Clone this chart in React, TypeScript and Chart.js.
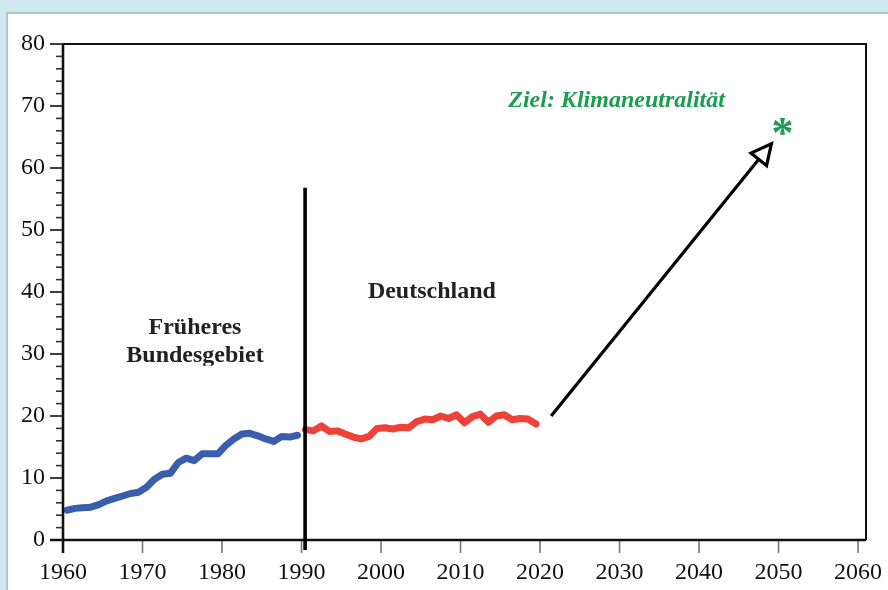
import React, { useEffect, useRef } from "react";
import { Chart, registerables } from "chart.js";

Chart.register(...registerables);

// ---- Data ----
const westYears = [1960, 1961, 1962, 1963, 1964, 1965, 1966, 1967, 1968, 1969, 1970, 1971, 1972, 1973, 1974, 1975, 1976, 1977, 1978, 1979, 1980, 1981, 1982, 1983, 1984, 1985, 1986, 1987, 1988, 1989];
const westValues = [4.8, 5.1, 5.2, 5.3, 5.7, 6.3, 6.7, 7.1, 7.5, 7.7, 8.5, 9.8, 10.6, 10.75, 12.5, 13.2, 12.8, 13.9, 13.9, 13.9, 15.3, 16.3, 17.1, 17.2, 16.8, 16.3, 15.9, 16.7, 16.6, 16.9];
const unifiedYears = [1990, 1991, 1992, 1993, 1994, 1995, 1996, 1997, 1998, 1999, 2000, 2001, 2002, 2003, 2004, 2005, 2006, 2007, 2008, 2009, 2010, 2011, 2012, 2013, 2014, 2015, 2016, 2017, 2018, 2019];
const unifiedValues = [17.8, 17.6, 18.4, 17.5, 17.6, 17.1, 16.6, 16.3, 16.7, 18.0, 18.1, 17.9, 18.2, 18.1, 19.1, 19.5, 19.4, 20.0, 19.6, 20.2, 18.9, 19.9, 20.3, 19.0, 20.0, 20.2, 19.4, 19.6, 19.5, 18.7];
const xTickLabels = [1960, 1970, 1980, 1990, 2000, 2010, 2020, 2030, 2040, 2050, 2060];
const yTickLabels = [0, 10, 20, 30, 40, 50, 60, 70, 80];
const yMinorStep = 2;

const labelFormer = ["Früheres", "Bundesgebiet"];
const labelUnified = "Deutschland";
const labelGoal = "Ziel: Klimaneutralität";
const labelStar = "*";

// annotation anchors (data units)
const reunification = { x: 1990.45, yFrom: -1.6, yTo: 56.8 };
const arrowFrom = { x: 2021.4, y: 20.0 };
const arrowTo = { x: 2049.1, y: 63.9 };
const starPos = { x: 2050.5, y: 66.8 };
const formerPos = { x: 1976.6, y1: 34.2, y2: 29.7, clipY: 28.1 };
const unifiedPos = { x: 2006.4, y: 40.0 };
const goalPos = { x: 2016.0, y: 70.8 };

const MID_YEAR = 0.5;

const BLUE = "#3a5eae";
const RED = "#ee4238";
const GREEN = "#1b9d52";
const SERIF = '"Liberation Serif", "Times New Roman", serif';

const decoPlugin = {
  id: "deco",
  beforeDraw(chart: any) {
    const { ctx, width, height } = chart;
    ctx.save();
    ctx.fillStyle = "#cfe9f1";
    ctx.fillRect(0, 0, width, height);
    ctx.fillStyle = "#ffffff";
    ctx.fillRect(7, 13, width - 7, height - 13);
    ctx.strokeStyle = "#abc6ce";
    ctx.lineWidth = 2;
    ctx.beginPath();
    ctx.moveTo(7, height);
    ctx.lineTo(7, 13);
    ctx.lineTo(width, 13);
    ctx.stroke();
    ctx.restore();
  },
  afterDatasetsDraw(chart: any) {
    const { ctx, chartArea: a, scales } = chart;
    const xs = scales.x;
    const ys = scales.y;
    const X = (v: number) => xs.getPixelForValue(v);
    const Y = (v: number) => ys.getPixelForValue(v);
    ctx.save();

    // y ticks (major + minor)
    for (let v = ys.min; v <= ys.max; v += yMinorStep) {
      const py = Y(v);
      const major = yTickLabels.includes(v);
      ctx.strokeStyle = major ? "#111" : "#333";
      ctx.lineWidth = 1.6;
      ctx.beginPath();
      ctx.moveTo(a.left - (major ? 13 : 7), py);
      ctx.lineTo(a.left, py);
      ctx.stroke();
    }
    // x ticks
    for (const t of xTickLabels) {
      const px = X(t);
      ctx.strokeStyle = "#777";
      ctx.lineWidth = 1.6;
      ctx.beginPath();
      ctx.moveTo(px, a.bottom);
      ctx.lineTo(px, a.bottom + 13);
      ctx.stroke();
    }

    // box
    ctx.strokeStyle = "#111";
    ctx.lineWidth = 2;
    ctx.beginPath();
    ctx.moveTo(a.left, a.top);
    ctx.lineTo(a.right, a.top);
    ctx.lineTo(a.right, a.bottom);
    ctx.stroke();
    ctx.lineWidth = 2.6;
    ctx.beginPath();
    ctx.moveTo(a.left, a.top);
    ctx.lineTo(a.left, a.bottom + 13);
    ctx.moveTo(a.left - 13, a.bottom);
    ctx.lineTo(a.right, a.bottom);
    ctx.stroke();

    // reunification line
    ctx.strokeStyle = "#000";
    ctx.lineWidth = 3.6;
    ctx.beginPath();
    ctx.moveTo(X(reunification.x), Y(reunification.yTo));
    ctx.lineTo(X(reunification.x), Y(reunification.yFrom));
    ctx.stroke();

    // arrow
    const x0 = X(arrowFrom.x), y0 = Y(arrowFrom.y);
    const x1 = X(arrowTo.x), y1 = Y(arrowTo.y);
    const dx = x1 - x0, dy = y1 - y0;
    const len = Math.hypot(dx, dy);
    const ux = dx / len, uy = dy / len;
    const L = 20, W = 10;
    const bx = x1 - ux * L, by = y1 - uy * L;
    ctx.lineWidth = 3.2;
    ctx.lineCap = "butt";
    ctx.beginPath();
    ctx.moveTo(x0, y0);
    ctx.lineTo(bx, by);
    ctx.stroke();
    ctx.lineJoin = "miter";
    ctx.beginPath();
    ctx.moveTo(x1, y1);
    ctx.lineTo(bx - uy * W, by + ux * W);
    ctx.lineTo(bx + uy * W, by - ux * W);
    ctx.closePath();
    ctx.fillStyle = "#fff";
    ctx.fill();
    ctx.stroke();

    // texts
    ctx.fillStyle = "#222";
    ctx.font = `bold 24px ${SERIF}`;
    ctx.textAlign = "center";
    ctx.textBaseline = "middle";
    ctx.fillText(labelUnified, X(unifiedPos.x), Y(unifiedPos.y));
    ctx.fillText(labelFormer[0], X(formerPos.x), Y(formerPos.y1));
    ctx.save();
    ctx.beginPath();
    ctx.rect(0, 0, chart.width, Y(formerPos.clipY));
    ctx.clip();
    ctx.fillText(labelFormer[1], X(formerPos.x), Y(formerPos.y2));
    ctx.restore();

    ctx.fillStyle = GREEN;
    ctx.font = `italic bold 24px ${SERIF}`;
    ctx.textAlign = "left";
    ctx.fillText(labelGoal, X(goalPos.x), Y(goalPos.y));

    ctx.font = `bold 44px ${SERIF}`;
    ctx.textAlign = "center";
    ctx.textBaseline = "alphabetic";
    ctx.fillText(labelStar, X(starPos.x), Y(starPos.y) + 44 * 0.48);

    ctx.restore();
  },
};

export default function App() {
  const ref = useRef<HTMLCanvasElement | null>(null);
  useEffect(() => {
    if (!ref.current) return;
    const tickFont = { family: SERIF, size: 24 };
    const chart = new Chart(ref.current, {
      type: "line",
      data: {
        datasets: [
          {
            data: westYears.map((yr, i) => ({ x: yr + MID_YEAR, y: westValues[i] })),
            borderColor: BLUE,
            borderWidth: 7,
            borderCapStyle: "round",
            borderJoinStyle: "round",
            pointRadius: 0,
            tension: 0,
          },
          {
            data: unifiedYears.map((yr, i) => ({ x: yr + MID_YEAR, y: unifiedValues[i] })),
            borderColor: RED,
            borderWidth: 7,
            borderCapStyle: "round",
            borderJoinStyle: "round",
            pointRadius: 0,
            tension: 0,
          },
        ],
      },
      options: {
        animation: false,
        responsive: false,
        maintainAspectRatio: false,
        layout: { padding: { top: 44, right: 22, left: 0, bottom: 0 } },
        plugins: { legend: { display: false }, tooltip: { enabled: false } },
        scales: {
          x: {
            type: "linear",
            min: 1960,
            max: 2061,
            afterFit(s: any) {
              s.height = 50;
              s.paddingLeft = 0;
              s.paddingRight = 0;
            },
            afterBuildTicks(s: any) {
              s.ticks = xTickLabels.map((v) => ({ value: v }));
            },
            grid: { display: true, drawOnChartArea: false, drawTicks: true, tickLength: 8, color: "rgba(0,0,0,0)" },
            border: { display: false },
            ticks: { padding: 10, font: tickFont, color: "#111", maxRotation: 0, autoSkip: false, callback: (v: any) => String(v) },
          },
          y: {
            type: "linear",
            min: 0,
            max: 80,
            afterFit(s: any) {
              s.width = 63;
              s.paddingTop = 0;
              s.paddingBottom = 0;
            },
            afterBuildTicks(s: any) {
              s.ticks = yTickLabels.map((v) => ({ value: v }));
            },
            grid: { display: true, drawOnChartArea: false, drawTicks: true, tickLength: 8, color: "rgba(0,0,0,0)" },
            border: { display: false },
            ticks: { padding: 10, font: tickFont, color: "#111", autoSkip: false, callback: (v: any) => String(v) },
          },
        },
      },
      plugins: [decoPlugin],
    } as any);
    return () => chart.destroy();
  }, []);
  return (
    <div style={{ position: "absolute", left: 0, top: 0, width: 888, height: 590 }}>
      <canvas ref={ref} width={888} height={590} style={{ display: "block", width: 888, height: 590 }} />
    </div>
  );
}
